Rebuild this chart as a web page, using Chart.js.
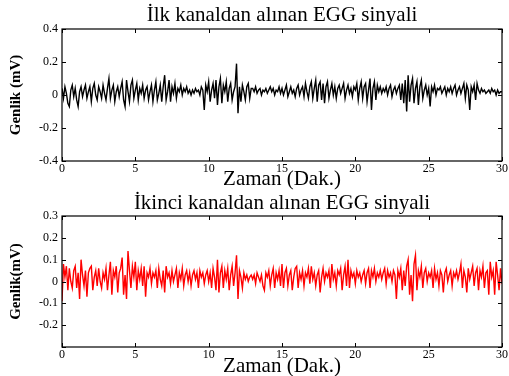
<!DOCTYPE html>
<html>
<head>
<meta charset="utf-8">
<script src="https://cdn.jsdelivr.net/npm/chart.js@4.4.1/dist/chart.umd.min.js"></script>
<style>
  html, body { margin: 0; padding: 0; background: #fff; overflow: hidden; }
  #wrap { position: relative; width: 509px; height: 376px; }
  canvas { position: absolute; left: 0; }
  #grafico1 { top: 0; }
  #grafico2 { top: 176px; }
</style>
</head>
<body>
<div id="wrap">
  <canvas id="grafico1" width="509" height="212"></canvas>
  <canvas id="grafico2" width="509" height="212"></canvas>
</div>
<script>
const graf1 = document.getElementById("grafico1");
const graf2 = document.getElementById("grafico2");

// ornekleme araligi (dakika)
const adim = 0.1;

// ilk kanal (mV), her satir 1 dakika
const kanal1 = [
  0.04, -0.02, 0.05, 0.01, -0.05, -0.07, 0.03, 0.06, -0.01, 0.04,
  -0.03, -0.07, 0.02, 0.05, -0.01, 0.03, 0.06, -0.02, 0.02, 0.05,
  -0.04, 0.04, 0.07, 0.00, -0.03, 0.05, 0.02, -0.02, 0.06, 0.01,
  -0.03, 0.04, 0.10, -0.02, 0.03, 0.06, -0.04, 0.02, 0.05, -0.01,
  0.04, 0.08, -0.03, -0.07, 0.09, 0.02, -0.04, 0.06, 0.09, -0.02,
  0.03, 0.07, -0.03, 0.04, 0.01, 0.06, -0.02, 0.03, 0.05, -0.03,
  0.02, 0.06, -0.04, 0.03, 0.08, -0.03, 0.01, 0.06, -0.04, 0.05,
  0.12, -0.03, 0.02, 0.09, -0.04, 0.05, 0.01, 0.07, -0.02, 0.04,
  0.02, 0.06, 0.00, 0.04, 0.02, 0.05, 0.01, 0.03, 0.00, 0.03,
  0.01, 0.04, 0.02, 0.03, 0.00, 0.05, 0.03, -0.09, 0.06, 0.02,
  0.08, -0.04, 0.03, 0.07, -0.02, 0.09, -0.06, 0.05, 0.10, -0.05,
  0.06, 0.02, 0.08, -0.04, 0.04, 0.07, -0.03, 0.02, 0.05, 0.19,
  -0.11, 0.05, -0.04, 0.06, 0.02, -0.03, 0.05, 0.07, -0.02, 0.04,
  0.04, 0.02, 0.05, 0.01, 0.03, 0.04, 0.00, 0.03, 0.02, 0.04,
  0.01, 0.03, 0.05, 0.02, 0.04, 0.00, 0.03, 0.02, 0.05, 0.01,
  0.04, 0.00, 0.03, 0.06, -0.01, 0.02, 0.05, 0.01, 0.03, -0.01,
  0.04, 0.06, 0.00, 0.03, 0.05, -0.01, 0.07, 0.02, -0.02, 0.05,
  0.08, -0.02, 0.04, 0.09, -0.04, 0.06, 0.08, -0.03, 0.07, -0.05,
  0.05, 0.08, -0.02, 0.03, 0.07, 0.00, 0.05, -0.02, 0.04, 0.06,
  0.01, 0.04, 0.07, -0.02, 0.03, 0.06, 0.01, 0.04, -0.01, 0.05,
  0.03, 0.07, -0.03, 0.04, 0.08, -0.02, 0.05, 0.07, -0.04, 0.03,
  0.10, -0.09, 0.04, 0.08, -0.03, 0.06, 0.02, 0.05, 0.01, 0.04,
  0.02, 0.05, 0.00, 0.04, 0.06, -0.01, 0.03, 0.05, 0.01, 0.04,
  0.06, -0.03, 0.07, -0.05, 0.09, -0.10, 0.12, -0.04, 0.06, 0.10,
  -0.05, 0.04, 0.08, -0.06, 0.05, 0.09, -0.02, 0.03, 0.06, 0.00,
  0.04, -0.07, 0.05, 0.02, 0.06, 0.00, 0.04, 0.03, 0.05, 0.01,
  0.03, 0.05, 0.00, 0.04, 0.02, 0.05, 0.01, 0.04, 0.06, 0.00,
  0.03, 0.05, 0.01, 0.04, 0.07, -0.02, 0.06, 0.03, -0.09, 0.05,
  0.02, 0.06, -0.03, 0.07, 0.03, 0.01, 0.04, 0.02, 0.03, 0.01,
  0.02, 0.03, 0.01, 0.04, 0.02, 0.03, 0.00, 0.03, 0.01, 0.02,
  0.02
];

// ikinci kanal (mV)
const kanal2 = [
  -0.09, 0.08, 0.02, 0.07, -0.04, 0.06, 0.00, -0.03, 0.05, 0.07,
  -0.03, 0.04, -0.08, 0.10, 0.03, -0.02, 0.05, -0.07, 0.04, 0.06,
  0.07, -0.04, 0.02, 0.05, -0.02, 0.06, 0.00, -0.03, 0.04, 0.01,
  0.06, -0.04, 0.03, 0.09, -0.06, 0.05, 0.02, 0.07, -0.05, 0.04,
  0.06, 0.11, -0.06, 0.03, -0.08, 0.14, 0.05, -0.03, 0.07, 0.02,
  0.09, -0.04, 0.05, 0.01, 0.06, -0.02, 0.07, -0.07, 0.04, 0.02,
  0.06, -0.01, 0.04, 0.02, 0.05, -0.03, 0.06, 0.01, -0.02, 0.05,
  -0.05, 0.07, 0.02, 0.04, -0.01, 0.05, 0.00, 0.03, 0.06, -0.03,
  0.04, 0.01, 0.06, -0.02, 0.03, 0.05, 0.00, 0.04, -0.02, 0.03,
  0.05, 0.01, 0.04, -0.03, 0.05, 0.02, 0.04, -0.01, 0.03, 0.05,
  0.00, 0.04, -0.03, 0.06, 0.02, -0.04, 0.10, -0.05, 0.04, 0.07,
  -0.03, 0.05, 0.01, 0.06, -0.04, 0.03, 0.07, -0.02, 0.04, 0.12,
  -0.08, 0.05, 0.02, -0.03, 0.04, 0.01, 0.03, 0.00, 0.02, 0.03,
  0.01, 0.03, -0.01, 0.04, 0.02, 0.00, 0.03, -0.02, -0.04, 0.04,
  0.02, 0.05, -0.02, 0.03, 0.06, -0.03, 0.04, 0.01, 0.05, -0.02,
  0.08, -0.03, 0.04, 0.06, -0.02, 0.03, 0.05, -0.04, 0.02, 0.06,
  0.07, -0.03, 0.04, 0.01, 0.05, -0.02, 0.04, 0.02, 0.06, -0.01,
  0.07, 0.01, 0.04, -0.02, 0.03, 0.05, -0.05, 0.02, 0.06, 0.00,
  0.04, 0.02, 0.05, -0.03, 0.08, 0.01, 0.04, -0.02, 0.05, 0.03,
  0.06, -0.04, 0.03, 0.07, -0.02, 0.10, -0.03, 0.05, 0.02, 0.04,
  -0.01, 0.05, 0.02, 0.04, 0.00, 0.03, 0.05, -0.01, 0.04, 0.06,
  -0.03, 0.05, 0.02, 0.06, 0.00, 0.04, 0.02, 0.05, 0.01, 0.04,
  0.06, -0.01, 0.05, 0.02, 0.04, 0.00, 0.05, 0.03, -0.08, 0.05,
  0.02, 0.06, -0.04, 0.05, -0.02, 0.07, 0.10, -0.06, 0.03, -0.09,
  0.08, 0.12, -0.04, 0.05, 0.02, 0.07, -0.03, 0.04, 0.06, 0.00,
  0.04, 0.02, 0.05, -0.03, 0.06, 0.01, 0.04, -0.02, 0.05, 0.03,
  -0.05, 0.04, 0.06, 0.00, 0.03, 0.05, -0.02, 0.04, 0.02, 0.05,
  0.01, 0.04, 0.08, -0.03, 0.05, 0.02, -0.05, 0.06, 0.01, 0.04,
  0.07, -0.02, 0.04, 0.06, -0.04, 0.05, 0.02, 0.07, -0.03, 0.04,
  0.05, -0.06, 0.09, 0.02, 0.05, -0.06, 0.09, 0.03, -0.04, 0.06,
  -0.01
];

// eksen ayarlari
const xTicks = [0, 5, 10, 15, 20, 25, 30];
const yTicks1 = [-0.4, -0.2, 0, 0.2, 0.4];
const yTicks2 = [-0.3, -0.2, -0.1, 0, 0.1, 0.2, 0.3];
const yEtiket2 = ["", "-0.2", "-0.1", "0", "0.1", "0.2", "0.3"];

const serif = "'Liberation Serif', 'Times New Roman', serif";

// Matlab gibi kutu ve iceri dogru cizgiler
const kutu = {
  id: "kutu",
  afterDraw(chart) {
    const { ctx, chartArea: a, scales } = chart;
    ctx.save();
    ctx.strokeStyle = "#000";
    ctx.lineWidth = 1.2;
    ctx.strokeRect(a.left, a.top, a.right - a.left, a.bottom - a.top);
    ctx.lineWidth = 1;
    ctx.beginPath();
    scales.x.ticks.forEach((t) => {
      const px = Math.round(scales.x.getPixelForValue(t.value)) + 0.5;
      ctx.moveTo(px, a.bottom); ctx.lineTo(px, a.bottom - 4);
      ctx.moveTo(px, a.top); ctx.lineTo(px, a.top + 4);
    });
    scales.y.ticks.forEach((t) => {
      const py = Math.round(scales.y.getPixelForValue(t.value)) + 0.5;
      ctx.moveTo(a.left, py); ctx.lineTo(a.left + 4, py);
      ctx.moveTo(a.right, py); ctx.lineTo(a.right - 4, py);
    });
    ctx.stroke();
    ctx.restore();
  },
};

function veri(deger) {
  return deger.map((v, i) => ({ x: i * adim, y: v }));
}

function ayarlar(baslik, ust, basPad, yEtiket, yMin, yMax, yTikler, yYazi, xAlt, xPad) {
  return {
    responsive: false,
    animation: false,
    layout: { padding: { left: 0, right: 7, top: 0, bottom: 0 } },
    plugins: {
      legend: { display: false },
      tooltip: { enabled: false },
    },
    scales: {
      // ust eksen sadece baslik icin (grafik alaninin ortasina gelsin diye)
      xUst: {
        type: "linear",
        position: "top",
        min: 0,
        max: 30,
        afterFit: (s) => { s.height = ust; },
        grid: { display: false, drawTicks: false },
        border: { display: false },
        ticks: { display: false },
        title: {
          display: true,
          text: baslik,
          color: "#000",
          font: { family: serif, size: 21, weight: "normal" },
          padding: { top: basPad, bottom: 0 },
        },
      },
      x: {
        type: "linear",
        min: 0,
        max: 30,
        afterBuildTicks: (s) => { s.ticks = xTicks.map((v) => ({ value: v })); },
        afterFit: (s) => { s.height = xAlt; },
        grid: { display: false, drawTicks: false },
        border: { display: false },
        ticks: { color: "#000", font: { family: serif, size: 12 }, padding: 1, maxRotation: 0 },
        title: {
          display: true,
          text: "Zaman (Dak.)",
          color: "#000",
          font: { family: serif, size: 21 },
          padding: { top: 0, bottom: xPad },
        },
      },
      y: {
        min: yMin,
        max: yMax,
        afterBuildTicks: (s) => { s.ticks = yTikler.map((v) => ({ value: v })); },
        afterFit: (s) => { s.width = 62; },
        grid: { display: false, drawTicks: false },
        border: { display: false },
        ticks: {
          color: "#000",
          font: { family: serif, size: 12 },
          padding: 4,
          callback: (v) => {
            const i = yTikler.findIndex((t) => Math.abs(t - v) < 1e-9);
            if (yYazi) return yYazi[i];
            return Math.abs(v) < 1e-9 ? "0" : v.toFixed(1);
          },
        },
        title: {
          display: true,
          text: yEtiket,
          color: "#000",
          font: { family: serif, size: 15, weight: "bold" },
          padding: { top: 7, bottom: 0 },
        },
      },
    },
  };
}

new Chart(graf1, {
  type: "line",
  data: {
    datasets: [
      {
        data: veri(kanal1),
        borderColor: "#000000",
        borderWidth: 1.4,
        pointRadius: 0,
        tension: 0,
      },
    ],
  },
  options: ayarlar("İlk kanaldan alınan EGG sinyali", 29, 2.4,
    "Genlik (mV)", -0.4, 0.4, yTicks1, null, 51, 20),
  plugins: [kutu],
});

new Chart(graf2, {
  type: "line",
  data: {
    datasets: [
      {
        data: veri(kanal2),
        borderColor: "#ff0000",
        borderWidth: 1.4,
        pointRadius: 0,
        tension: 0,
      },
    ],
  },
  options: ayarlar("İkinci kanaldan alınan EGG sinyali", 40, 14.4,
    "Genlik(mV)", -0.3, 0.3, yTicks2, yEtiket2, 41, 9),
  plugins: [kutu],
});
</script>
</body>
</html>
